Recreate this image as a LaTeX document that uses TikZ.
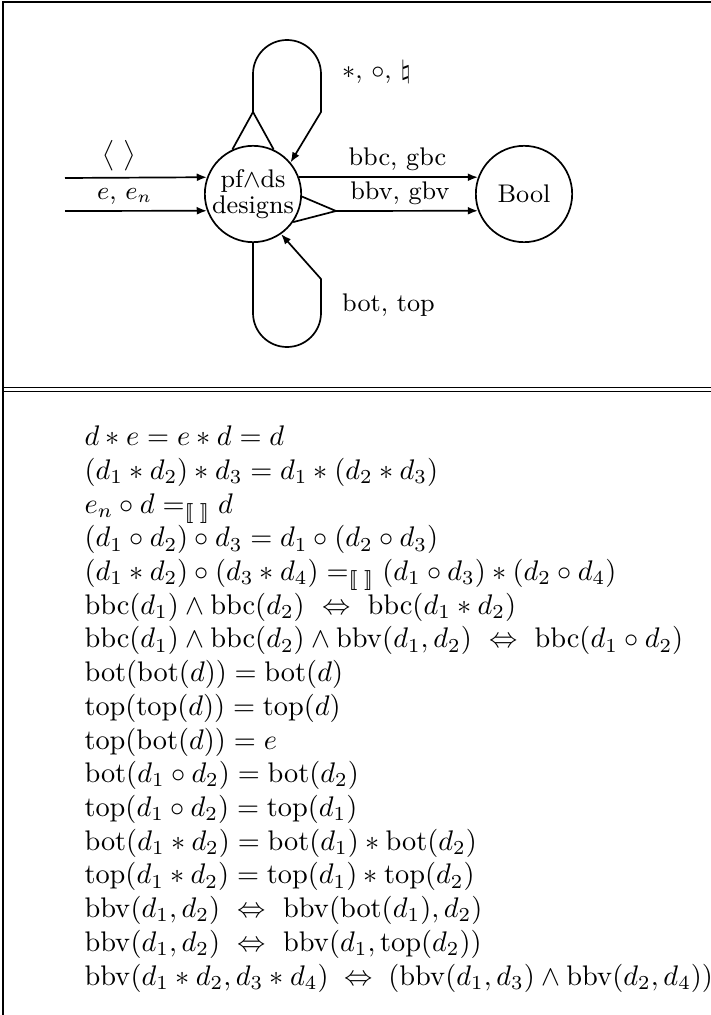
\documentclass[tikz,border=0pt]{standalone}
\usepackage{amsmath}
\usetikzlibrary{arrows.meta, positioning, calc}
\tikzset{
  obj/.style={circle, draw, line width=0.6pt, minimum size=34pt,
              inner sep=0pt, align=center, font=\fontsize{9}{9}\selectfont},
  lbl/.style={font=\fontsize{9}{10}\selectfont, inner sep=2pt},
  arr/.style={-{Latex[length=3.6pt,width=2.8pt]}, line width=0.6pt},
  edge/.style={line width=0.6pt},
  frame/.style={line width=0.6pt},
  laws/.style={align=left, inner sep=0pt, font=\fontsize{10}{11.9}\selectfont},
}
\newcommand{\fn}[1]{\mathrm{#1}}
\newcommand{\semeq}{\mathrel{=_{[\![\;]\!]}}}
\newcommand{\iffs}{\ \Leftrightarrow\ }

\begin{document}
\begin{tikzpicture}[x=0.353pt, y=-0.353pt]
  \useasboundingbox (0,0) rectangle (711,1015);
  % frame
  \draw[frame] (3,1015) -- (3,2) -- (711,2);
  \draw[frame] (3,387.5) -- (711,387.5);
  \draw[frame] (3,391.5) -- (711,391.5);

  % signature
  \node[obj] (designs) at (253,194) {pf$\wedge$ds\\designs};
  \node[obj] (bool) at (524,194) {Bool};
  \coordinate (inA) at (65,178);
  \coordinate (inB) at (65,211);
  \coordinate (topapex) at (253,112);
  \coordinate (rapex) at (336,211);

  \draw[arr] (inA) -- node[lbl, above, pos=0.38] (unitlbl) {$\big\langle\ \big\rangle$} (designs.160);
  \draw[arr] (inB) -- node[lbl, above, pos=0.42] (constlbl) {$e$, $e_n$} (designs.200);
  \draw[arr] (designs.20) -- node[lbl, above, pos=0.55] (bbclbl) {bbc, gbc} (bool.160);
  \draw[edge] (designs.-3) -- (rapex) -- (designs.-35);
  \draw[arr] (rapex) -- node[lbl, above, pos=0.45] (bbvlbl) {bbv, gbv} (bool.200);

  % loops
  \draw[edge] (designs.115) -- (topapex) -- (designs.65);
  \draw[arr] (topapex) -- ++(0,-38) arc[start angle=180, end angle=360, radius=34]
    -- ++(0,38) -- (designs.40);
  \node[lbl, anchor=west] (oplbl) at (336,72) {$*$, $\circ$, $\natural$};
  \draw[arr] (designs.south) -- ++(0,70) arc[start angle=180, end angle=0, radius=34]
    -- ++(0,-34) -- (designs.-55);
  \node[lbl, anchor=west] (btlbl) at (336,305) {bot, top};

  % laws (base = last line)
  \node[laws, anchor=base west] (laws) at (84,985) {%
    $d * e = e * d = d$\\
    $(d_1 * d_2) * d_3 = d_1 * (d_2 * d_3)$\\
    $e_n \circ d \semeq d$\\
    $(d_1 \circ d_2) \circ d_3 = d_1 \circ (d_2 \circ d_3)$\\
    $(d_1 * d_2) \circ (d_3 * d_4) \semeq (d_1 \circ d_3) * (d_2 \circ d_4)$\\
    $\fn{bbc}(d_1) \wedge \fn{bbc}(d_2) \iffs \fn{bbc}(d_1 * d_2)$\\
    $\fn{bbc}(d_1) \wedge \fn{bbc}(d_2) \wedge \fn{bbv}(d_1, d_2) \iffs \fn{bbc}(d_1 \circ d_2)$\\
    $\fn{bot}(\fn{bot}(d)) = \fn{bot}(d)$\\
    $\fn{top}(\fn{top}(d)) = \fn{top}(d)$\\
    $\fn{top}(\fn{bot}(d)) = e$\\
    $\fn{bot}(d_1 \circ d_2) = \fn{bot}(d_2)$\\
    $\fn{top}(d_1 \circ d_2) = \fn{top}(d_1)$\\
    $\fn{bot}(d_1 * d_2) = \fn{bot}(d_1) * \fn{bot}(d_2)$\\
    $\fn{top}(d_1 * d_2) = \fn{top}(d_1) * \fn{top}(d_2)$\\
    $\fn{bbv}(d_1, d_2) \iffs \fn{bbv}(\fn{bot}(d_1), d_2)$\\
    $\fn{bbv}(d_1, d_2) \iffs \fn{bbv}(d_1, \fn{top}(d_2))$\\
    $\fn{bbv}(d_1 * d_2, d_3 * d_4) \;\Leftrightarrow\; (\fn{bbv}(d_1, d_3) \wedge \fn{bbv}(d_2, d_4))$};
\end{tikzpicture}
\end{document}
